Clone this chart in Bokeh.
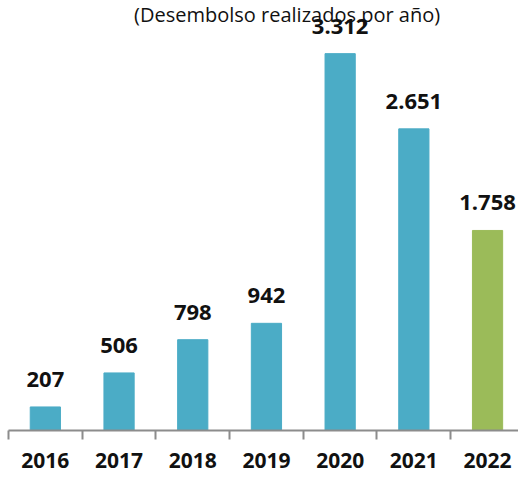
from bokeh.plotting import figure
from bokeh.models import Range1d, FixedTicker, ColumnDataSource, LabelSet, Label
from bokeh.core.properties import value
from bokeh.embed import file_html
from bokeh.resources import INLINE

years = ["2016", "2017", "2018", "2019", "2020", "2021", "2022"]
values = [207, 506, 798, 942, 3312, 2651, 1758]
labels = ["207", "506", "798", "942", "3.312", "2.651", "1.758"]
colors = ["#4BACC6"] * 6 + ["#9BBB59"]
title_text = "(Desembolso realizados por año)"

centers = [i + 0.5 for i in range(len(years))]
bounds = [i for i in range(len(years) + 1)]

src = ColumnDataSource(dict(x=centers, top=values, lab=labels, color=colors))

p = figure(width=518, height=477, output_backend="svg", toolbar_location=None,
           x_range=Range1d(0, 6.92), y_range=Range1d(0, 3779),
           min_border_left=8, min_border_right=0, min_border_top=0, min_border_bottom=47)
p.outline_line_color = None
p.background_fill_color = "white"
p.border_fill_color = "white"
p.grid.visible = False
p.yaxis.visible = False

p.vbar(x="x", top="top", width=0.41, color="color", source=src)

ax = p.xaxis[0]
ax.ticker = FixedTicker(ticks=centers, minor_ticks=bounds)
ax.major_label_overrides = {c: y for c, y in zip(centers, years)}
ax.major_tick_line_color = None
ax.major_tick_out = 0
ax.major_tick_in = 0
ax.minor_tick_line_color = "#8C8C8C"
ax.minor_tick_line_width = 2
ax.minor_tick_out = 9
ax.minor_tick_in = 0
ax.axis_line_color = "#8C8C8C"
ax.axis_line_width = 2
ax.major_label_text_font = "Open Sans"
ax.major_label_text_font_style = "bold"
ax.major_label_text_font_size = "21px"
ax.major_label_text_color = "#111111"
ax.major_label_standoff = 13

ls = LabelSet(x="x", y="top", text="lab", source=src, text_align="center",
              text_baseline="alphabetic", y_offset=20,
              text_font=value("Open Sans"), text_font_style="bold",
              text_font_size="22px", text_color="#111111")
p.add_layout(ls)

t = Label(x=3.78, y=3655, text=title_text, text_align="center",
          text_baseline="alphabetic", text_font="Open Sans",
          text_font_size="20px", text_color="#111111")
p.add_layout(t)

open("out.html", "w").write(file_html(p, INLINE))
